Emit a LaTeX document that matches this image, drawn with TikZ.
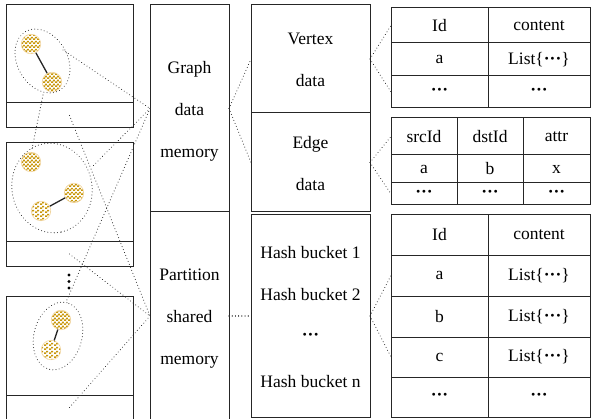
\documentclass[tikz,border=0pt]{standalone}
\usepackage{fontspec}
\setmainfont{Liberation Serif}
\usetikzlibrary{shapes.geometric,patterns}
\definecolor{gold}{HTML}{C8960A}
\definecolor{peach}{HTML}{F2D7A4}
% fine checkered fill for the graph vertices
\pgfdeclarepatternformonly{finechecker}{\pgfpointorigin}{\pgfqpoint{4.4pt}{3.6pt}}{\pgfqpoint{4.4pt}{3.6pt}}{%
  \pgfpathrectangle{\pgfpointorigin}{\pgfqpoint{2.3pt}{1.7pt}}%
  \pgfpathrectangle{\pgfqpoint{2.2pt}{1.8pt}}{\pgfqpoint{2.3pt}{1.7pt}}%
  \pgfusepath{fill}}
\newcommand{\mdots}{\textbf{···}}
\tikzset{
  box/.style={draw=black!85, line width=1pt, anchor=north west, inner sep=0pt, outer sep=0pt},
  lbl/.style={font=\fontsize{17.5}{42}\selectfont, inner sep=0pt},
  stack/.style={lbl, align=center},
  cell/.style={box, lbl},
  link/.style={draw=black!80, line width=1.1pt, dash pattern=on 0.01pt off 3.2pt, line cap=round},
  part/.style={ellipse, draw=black!75, line width=1.1pt, dash pattern=on 0.01pt off 3.2pt, line cap=round, inner sep=0pt},
  vtx/.style={circle, minimum size=19.5pt, inner sep=0pt, draw=peach, line width=0.6pt, pattern=finechecker, pattern color=gold},
  edgeline/.style={draw=black!85, line width=1.3pt},
  dotmark/.style={circle, fill=black, minimum size=3.4pt, inner sep=0pt}
}
\begin{document}
\begin{tikzpicture}[x=1pt,y=-1pt]
\useasboundingbox (0,0) rectangle (593,419);
\clip (0,0) rectangle (593,419);

% ---- partitions on the left ----
\node[box, minimum width=127pt, minimum height=123pt] (p1) at (6,5) {};
\node[box, minimum width=127pt, minimum height=25pt] (s1) at (6,103) {};
\node[box, minimum width=127pt, minimum height=123pt] (p2) at (6,143) {};
\node[box, minimum width=127pt, minimum height=24pt] (s2) at (6,242) {};
\node[box, minimum width=127pt, minimum height=124pt] (p3) at (6,296) {};
\node[box, minimum width=127pt, minimum height=25pt] (s3) at (6,395) {};

% sub-graphs inside the partitions
\node[part, minimum width=68pt, minimum height=50pt, rotate=-60] (e1) at (42.5,61) {};
\node[part, minimum width=90pt, minimum height=80pt, rotate=-78] (e2) at (52,188) {};
\node[part, minimum width=69pt, minimum height=48pt, rotate=75] (e3) at (58,336) {};

\node[vtx] (v1) at (31,44) {};
\node[vtx] (v2) at (52,82) {};
\node[vtx] (v3) at (31,162) {};
\node[vtx] (v4) at (74,193) {};
\node[vtx] (v5) at (41,211) {};
\node[vtx] (v6) at (61,320) {};
\node[vtx] (v7) at (51,350) {};
\draw[edgeline] (v1) -- (v2);
\draw[edgeline] (v5) -- (v4);
\draw[edgeline] (v6) -- (v7);

\node[dotmark] (d1) at (69,275) {};
\node[dotmark] (d2) at (69,281.5) {};
\node[dotmark] (d3) at (69,288) {};

% ---- memory column ----
\node[box, minimum width=79pt, minimum height=207pt] (gdm) at (150,5) {};
\node[stack, yshift=-2.5pt] (gdmtext) at (gdm.center) {Graph\\data\\memory};
\node[box, minimum width=79pt, minimum height=208pt] (psm) at (150,212) {};
\node[stack, yshift=-2.5pt] (psmtext) at (psm.center) {Partition\\shared\\memory};

% ---- data column ----
\node[box, minimum width=119pt, minimum height=108pt] (vdata) at (251,5) {};
\node[stack, yshift=-1pt] (vtext) at (vdata.center) {Vertex\\data};
\node[box, minimum width=119pt, minimum height=99pt] (edata) at (251,113) {};
\node[stack, yshift=-1pt] (etext) at (edata.center) {Edge\\data};
\node[box, minimum width=119pt, minimum height=202pt] (hash) at (251,215) {};
\node[lbl] (hb1) at (310.5,253) {Hash bucket 1};
\node[lbl] (hb2) at (310.5,295) {Hash bucket 2};
\node[lbl] (hbd) at (310.5,337) {\mdots};
\node[lbl] (hbn) at (310.5,382) {Hash bucket n};

% ---- vertex table ----
\node[cell, minimum width=97pt, minimum height=35pt] (ta1) at (391,8) {Id};
\node[cell, minimum width=102pt, minimum height=35pt] (ta2) at (488,8) {content};
\node[cell, minimum width=97pt, minimum height=33pt] (ta3) at (391,43) {a};
\node[cell, minimum width=102pt, minimum height=33pt] (ta4) at (488,43) {List\{\mdots\}};
\node[cell, minimum width=97pt, minimum height=32pt] (ta5) at (391,76) {\mdots};
\node[cell, minimum width=102pt, minimum height=32pt] (ta6) at (488,76) {\mdots};

% ---- edge table ----
\node[cell, minimum width=66pt, minimum height=37pt] (tb1) at (391,118) {srcId};
\node[cell, minimum width=66pt, minimum height=37pt] (tb2) at (457,118) {dstId};
\node[cell, minimum width=67pt, minimum height=37pt] (tb3) at (523,118) {attr};
\node[cell, minimum width=66pt, minimum height=28pt] (tb4) at (391,155) {a};
\node[cell, minimum width=66pt, minimum height=28pt] (tb5) at (457,155) {b};
\node[cell, minimum width=67pt, minimum height=28pt] (tb6) at (523,155) {x};
\node[cell, minimum width=66pt, minimum height=22pt] (tb7) at (391,183) {\mdots};
\node[cell, minimum width=66pt, minimum height=22pt] (tb8) at (457,183) {\mdots};
\node[cell, minimum width=67pt, minimum height=22pt] (tb9) at (523,183) {\mdots};

% ---- hash table ----
\node[cell, minimum width=97pt, minimum height=40pt] (tc1) at (391,215) {Id};
\node[cell, minimum width=102pt, minimum height=40pt] (tc2) at (488,215) {content};
\node[cell, minimum width=97pt, minimum height=41pt] (tc3) at (391,255) {a};
\node[cell, minimum width=102pt, minimum height=41pt] (tc4) at (488,255) {List\{\mdots\}};
\node[cell, minimum width=97pt, minimum height=41pt] (tc5) at (391,296) {b};
\node[cell, minimum width=102pt, minimum height=41pt] (tc6) at (488,296) {List\{\mdots\}};
\node[cell, minimum width=97pt, minimum height=40pt] (tc7) at (391,337) {c};
\node[cell, minimum width=102pt, minimum height=40pt] (tc8) at (488,337) {List\{\mdots\}};
\node[cell, minimum width=97pt, minimum height=40pt] (tc9) at (391,377) {\mdots};
\node[cell, minimum width=102pt, minimum height=40pt] (tc10) at (488,377) {\mdots};

% ---- dotted links ----
\coordinate (e1r) at (63,50);
\coordinate (e1b) at (43,95);
\coordinate (e2t) at (32,149);
\coordinate (e2r) at (92,167);
\coordinate (e3t) at (66,302);

\draw[link] (e1r) -- (gdm.west);
\draw[link] (gdm.west) -- (e2r);
\draw[link] (gdm.west) -- (e3t);
\draw[link] (e1b) -- (e2t);
\draw[link] (s1.center) -- (psm.west);
\draw[link] (s2.center) -- (psm.west);
\draw[link] (s3.center) -- (psm.west);

\draw[link] (gdm.east) -- (vdata.west);
\draw[link] (gdm.east) -- (edata.west);
\draw[link] (psm.east) -- (hash.west);
\draw[link] (vdata.east) -- (ta1.west);
\draw[link] (vdata.east) -- (ta5.west);
\draw[link] (edata.east) -- (tb1.west);
\draw[link] (edata.east) -- (tb7.west);
\draw[link] (hash.east) -- (tc3.west);
\draw[link] (hash.east) -- (tc7.west);
\end{tikzpicture}
\end{document}
